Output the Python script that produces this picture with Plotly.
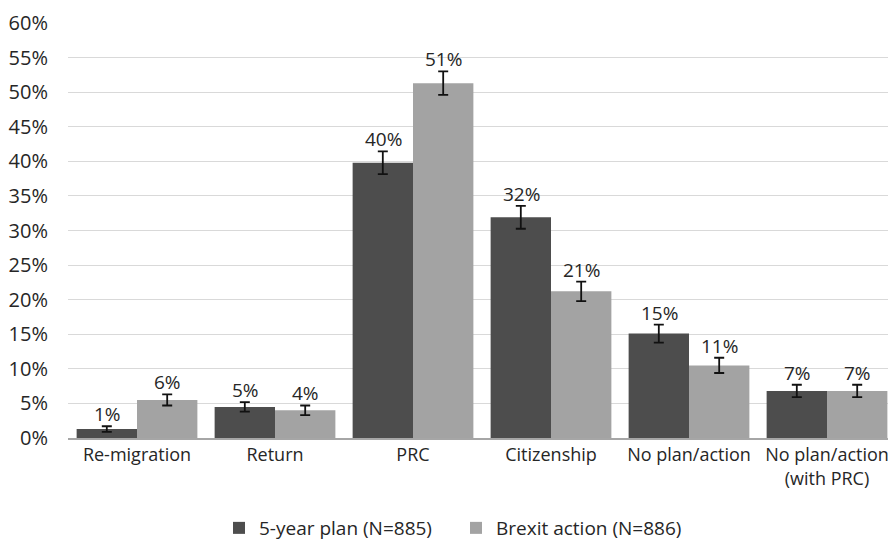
import plotly.graph_objects as go

categories = ["Re-migration", "Return", "PRC", "Citizenship", "No plan/action", "No plan/action<br>(with PRC)"]
plan_values = [1.3, 4.5, 39.8, 31.9, 15.1, 6.8]
plan_errors = [0.4, 0.7, 1.65, 1.65, 1.3, 0.9]
plan_labels = ["1%", "5%", "40%", "32%", "15%", "7%"]
brexit_values = [5.5, 4.0, 51.3, 21.2, 10.5, 6.8]
brexit_errors = [0.8, 0.7, 1.7, 1.4, 1.1, 0.9]
brexit_labels = ["6%", "4%", "51%", "21%", "11%", "7%"]
y_ticks = list(range(0, 61, 5))
y_tick_labels = [f"{t}%" for t in y_ticks]

FONT = "Open Sans"
TXT = "#262626"

fig = go.Figure()
fig.add_trace(go.Bar(
    x=categories, y=plan_values, name="5-year plan (N=885)",
    marker=dict(color="#4d4d4d", line=dict(width=0)),
    error_y=dict(type="data", array=plan_errors, color="#111111", thickness=1.8, width=5),
))
fig.add_trace(go.Bar(
    x=categories, y=brexit_values, name="Brexit action (N=886)",
    marker=dict(color="#a3a3a3", line=dict(width=0)),
    error_y=dict(type="data", array=brexit_errors, color="#111111", thickness=1.8, width=5),
))

annotations = []
for cat, v, e, lab in zip(categories, plan_values, plan_errors, plan_labels):
    annotations.append(dict(x=cat, y=v + e, text=lab, showarrow=False, xshift=-30,
                            yanchor="bottom", yshift=-3, font=dict(family=FONT, size=19, color=TXT)))
for cat, v, e, lab in zip(categories, brexit_values, brexit_errors, brexit_labels):
    annotations.append(dict(x=cat, y=v + e, text=lab, showarrow=False, xshift=30,
                            yanchor="bottom", yshift=-3, font=dict(family=FONT, size=19, color=TXT)))

fig.update_layout(
    width=888, height=535,
    margin=dict(l=60, r=0, t=15, b=105, autoexpand=False),
    paper_bgcolor="white", plot_bgcolor="white",
    barmode="group", bargap=0.125, bargroupgap=0,
    font=dict(family=FONT, size=19, color=TXT),
    showlegend=True,
    legend=dict(orientation="h", x=211 / 888, xanchor="left", xref="container",
                y=0.028, yanchor="middle", yref="container",
                font=dict(family=FONT, size=19, color=TXT), traceorder="normal",
                itemwidth=30, entrywidth=192, entrywidthmode="pixels"),
    annotations=annotations,
    xaxis=dict(showline=True, linecolor="#a6a6a6", linewidth=1.5, ticks="",
               automargin=False, tickfont=dict(family=FONT, size=18, color=TXT)),
    yaxis=dict(range=[0, 60], tickvals=y_ticks, ticktext=y_tick_labels,
               showgrid=True, gridcolor="#d9d9d9", gridwidth=1.3, zeroline=False,
               showline=False, ticks="", ticklabelstandoff=19, automargin=False,
               ticklabeloverflow="allow",
               tickfont=dict(family=FONT, size=20, color=TXT)),
)

fig.write_html("out.html")
